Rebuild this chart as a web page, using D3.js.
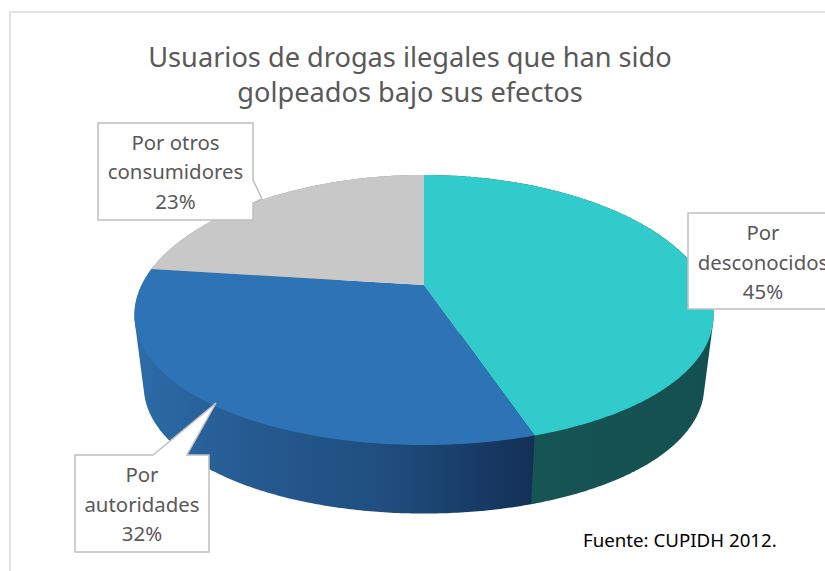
<!DOCTYPE html>
<html>
<head>
<meta charset="utf-8">
<script src="https://cdnjs.cloudflare.com/ajax/libs/d3/7.8.5/d3.min.js"></script>
<style>
html,body{margin:0;padding:0;background:#fff;overflow:hidden}
svg{display:block}
text{font-family:"Noto Sans","Open Sans",sans-serif}
</style>
</head>
<body>
<svg id="chart" width="825" height="571"></svg>
<script>
// Shares of respondents by who struck them
const categories = ["Por desconocidos", "Por autoridades", "Por otros consumidores"];
const values = [45, 32, 23];
const topColors = ["#31cbcb", "#2e73b5", "#c8c8c8"];
const titleLines = ["Usuarios de drogas ilegales que han sido", "golpeados bajo sus efectos"];
const sourceNote = "Fuente: CUPIDH 2012.";

const svg = d3.select("#chart");

// Frame of the chart area
svg.append("rect").attr("x", 10).attr("y", 12).attr("width", 900).attr("height", 900)
  .attr("fill", "#fff").attr("stroke", "#d9d9d9").attr("stroke-width", 1.5);

// Pie layout, clockwise from twelve o'clock
const slices = d3.pie().sort(null).startAngle(0).endAngle(2 * Math.PI)(values);

// Perspective projection of the disc: the near edge is drawn larger than the far edge
const depthY = d3.scaleLinear().domain([1, -1]).range([1.185, 0.815]);
const depthX = d3.scaleLinear().domain([1, -1]).range([1.21, 0.77]);
function project(theta, disc) {
  const c = Math.cos(theta), s = Math.sin(theta);
  return [disc.cx + disc.a * s / depthX(c), disc.cy - disc.b * c / depthY(c)];
}
const topDisc = {cx: 424, cy: 285, a: 279.5, b: 130.4};
const lowDisc = {cx: 424, cy: 356.5, a: 270.5, b: 128};

function arcPoints(a0, a1, disc) {
  const n = Math.max(2, Math.ceil((a1 - a0) / 0.01));
  return d3.range(n + 1).map(i => project(a0 + (a1 - a0) * i / n, disc));
}
const pathLine = d3.line();

// Shaded side wall gradients, stepping darker to the right
const defs = svg.append("defs");
const wallStops = [
  [["#175454", 0], ["#155050", 1]],
  [["#2c6ca8", 0], ["#25598f", 0.3], ["#204f80", 0.6], ["#183b66", 0.85], ["#142f54", 1]],
  [["#8a8a8a", 0], ["#8a8a8a", 1]]
];
const wallExtents = [[533, 712], [136, 537], [136, 424]];
wallStops.forEach((stops, i) => {
  const g = defs.append("linearGradient").attr("id", "wall" + i)
    .attr("gradientUnits", "userSpaceOnUse")
    .attr("x1", wallExtents[i][0]).attr("x2", wallExtents[i][1]).attr("y1", 0).attr("y2", 0);
  stops.forEach(s => g.append("stop").attr("offset", s[1]).attr("stop-color", s[0]));
});

// Each wall is the hull of its upper and lower rim; the top face hides the inner part
svg.append("g").selectAll("path").data([slices[2], slices[0], slices[1]]).join("path")
  .attr("d", d => {
    const rim = arcPoints(d.startAngle, d.endAngle, topDisc)
      .concat(arcPoints(d.startAngle, d.endAngle, lowDisc));
    return pathLine(d3.polygonHull(rim)) + "Z";
  })
  .attr("fill", d => `url(#wall${d.index})`);

svg.append("g").selectAll("path").data(slices).join("path")
  .attr("d", d => pathLine([[topDisc.cx, topDisc.cy]].concat(arcPoints(d.startAngle, d.endAngle, topDisc))) + "Z")
  .attr("fill", d => topColors[d.index]);

// Title
svg.append("g").selectAll("text").data(titleLines).join("text")
  .attr("x", 410).attr("y", (d, i) => 67 + i * 35)
  .attr("text-anchor", "middle").attr("font-size", 27.2).attr("fill", "#595959")
  .text(d => d);

// Callout shapes: box corners plus pointer
const callouts = [
  {x0: 688, x1: 840, y0: 213, y1: 309, cx: 763, base: 240, lines: ["Por", "desconocidos"], pointer: null},
  {x0: 75, x1: 209, y0: 455, y1: 552, cx: 142, base: 482, lines: ["Por", "autoridades"],
    pointer: {side: "top", a: 153, b: 187, tip: [216, 403]}},
  {x0: 98, x1: 253, y0: 123, y1: 220, cx: 175.5, base: 149.5, lines: ["Por otros", "consumidores"],
    pointer: {side: "right", a: 180, b: 203, tip: [262, 199]}}
];
callouts.forEach((c, i) => {
  let pts;
  if (!c.pointer) {
    pts = [[c.x0, c.y0], [c.x1, c.y0], [c.x1, c.y1], [c.x0, c.y1]];
  } else if (c.pointer.side === "top") {
    pts = [[c.x0, c.y0], [c.pointer.a, c.y0], c.pointer.tip, [c.pointer.b, c.y0], [c.x1, c.y0], [c.x1, c.y1], [c.x0, c.y1]];
  } else {
    pts = [[c.x0, c.y0], [c.x1, c.y0], [c.x1, c.pointer.a], c.pointer.tip, [c.x1, c.pointer.b], [c.x1, c.y1], [c.x0, c.y1]];
  }
  svg.append("path").attr("d", pathLine(pts) + "Z")
    .attr("fill", "#fff").attr("stroke", "#bfbfbf").attr("stroke-width", 1.5);
  const rows = c.lines.concat(values[i] + "%");
  svg.append("g").selectAll("text").data(rows).join("text")
    .attr("x", c.cx).attr("y", (d, j) => c.base + j * 29.5)
    .attr("text-anchor", "middle").attr("font-size", 20.4).attr("fill", "#595959")
    .text(d => d);
});

// Source note
svg.append("text").attr("x", 583).attr("y", 547)
  .attr("font-size", 18.7).attr("fill", "#000").text(sourceNote);
</script>
</body>
</html>
